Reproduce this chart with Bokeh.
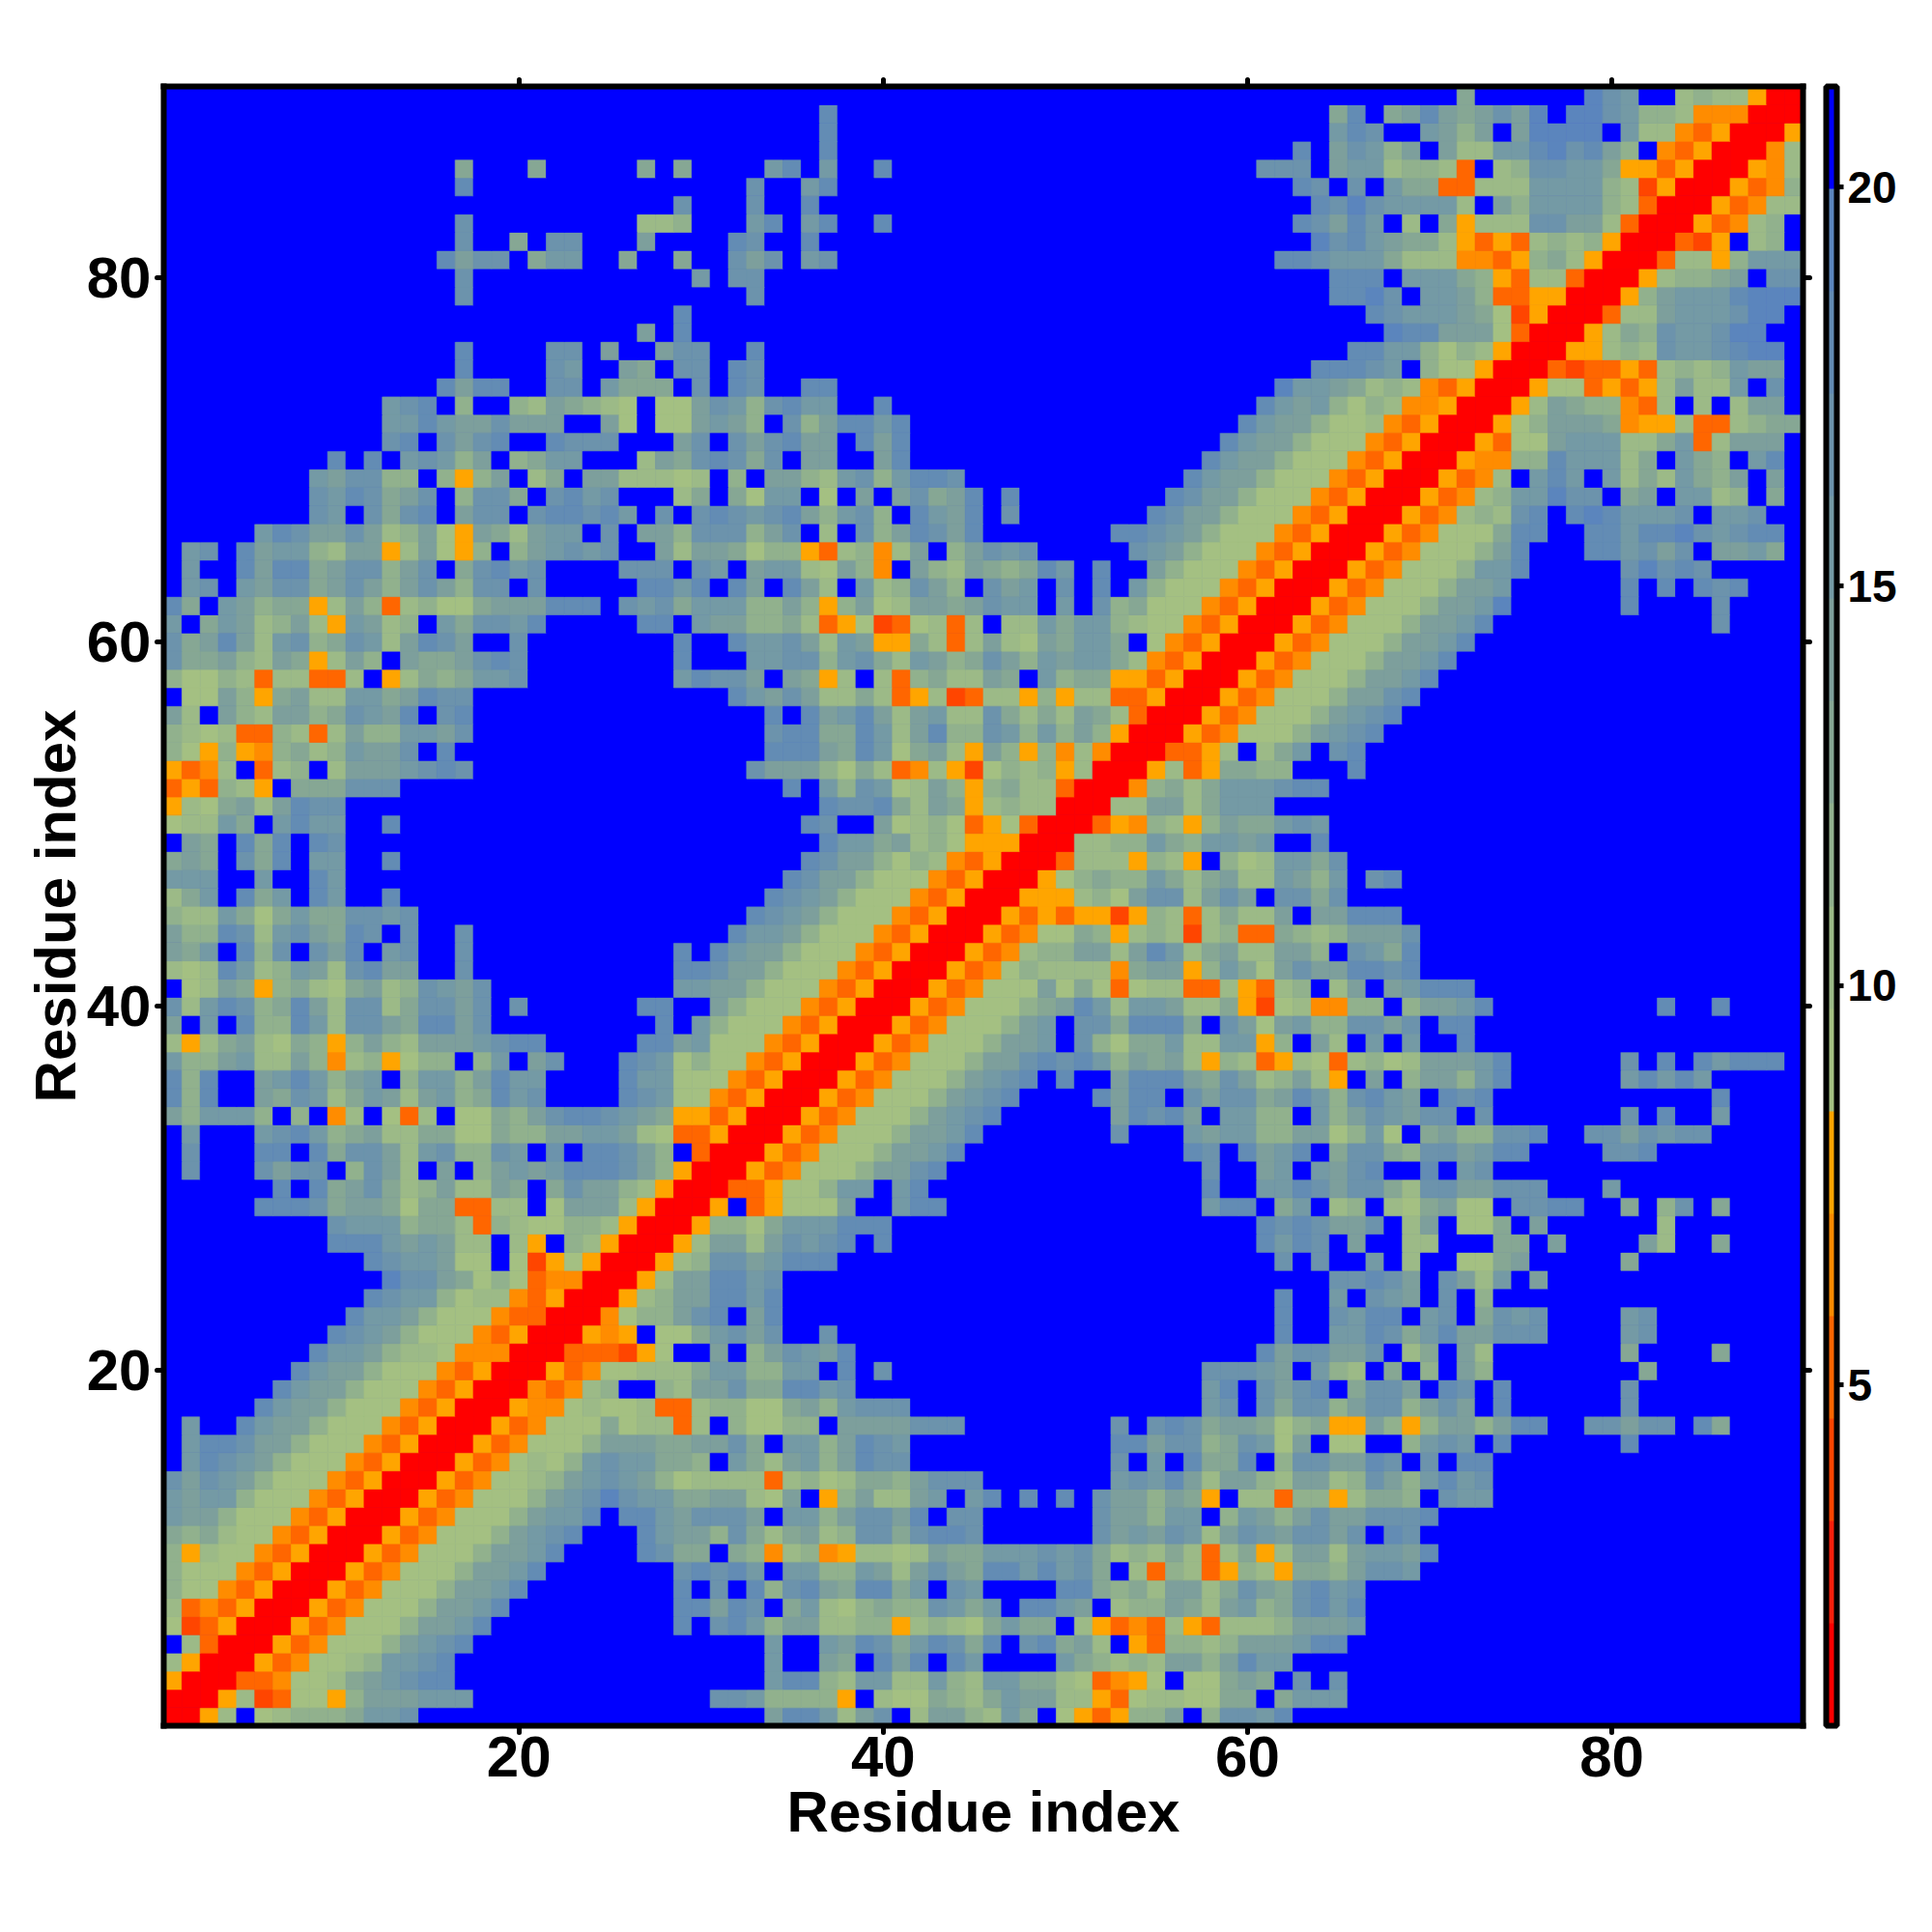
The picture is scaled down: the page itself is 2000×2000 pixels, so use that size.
import numpy as np
from bokeh.embed import file_html
from bokeh.resources import INLINE
from bokeh.plotting import figure
from bokeh.models import (ColumnDataSource, LinearAxis, FixedTicker, LinearColorMapper,
                          ColorBar)
from bokeh.transform import transform

# Binned distance per residue pair (symmetric map; each row starts on the diagonal).
# r a b c d : red -> orange bins, 1..9 : green -> steel-blue bins, 0 : top (blue) bin.
# Groups: residues up to 26 | 27-52 | 53-78 | 79-90; a short group is filled with the top bin.
ROWS = [
"rrd20123334667 000000058862570255326401db d335037768 0",
"rrd2ab11d3555666 00007763333d0211432465522d b122114404666 0",
"rrbbc112456788 0000000688326622632664421b cd10114540707 0",
"rrdbc11236678 00000006005408580860000643 2325535866 0",
"rrdbc11135678 00000006006587468748078452 0db3323555688 0",
"rrdbc11135568 00807863552233d2321464402d bcb2db22235556 0",
"rrdbc11135568 00885870462134337646088650 23354256347868 0",
"rrdbc11135568 00807083785488460760000884 34255247547867 0",
"rrdbc11135568 00787860663365257548868674 02b32bd32d4435776 0",
"rrdbc11135568 8744043c23cd22125446667674 23242b24d255256658 0",
"rrdbc11135678 86553742452377478870000007 56576257657757087 0",
"rrdbc1113566808 86577750663577580770000007 553660365357557778 0",
"rrdbc111356797 6644552150d352256068080807 55354d022b33d24430766 0",
"rrdbc11235676 5312222b23124435777 676852553255237536867 0",
"rrdbc1213676 644306425635877 706084480377558707088 0",
"rrdbc111355 544557406635876 8857734761501100367608 008",
"rrdbc11141 22b203113305555777 707874554134dd53d3553588 77577084",
"rrdcc1211 2bb233114536777 0000067074773577357508 007",
"rrcbc230 032557448867 0000068075780477508708 007",
"rrdbc11 22246633660807 000007776506320403053 0004",
"rrbbba d10050357658 000000008577557024052 00400004",
"rrdcd 01146757007 000000000800668746855777 0067",
"rrc1 33578058 000000000800768806704767 0067",
"rrd 23558868 000000000800607650703 0",
"rr d2558867 000000000000778750752605 0",
"r rd237756888 00000000070700602001145 004",
"rrd25525767808 0000000086870500220004405 00052004",
"rrd3314666888 000000008787557025011405 00002",
"rrd0bd111500688 00000688046023021451107788 00403704",
"rrbbd11366068 000008006687577427755777 06",
"rrdbc11135578 000007005606578008067 0",
"rrdbc11135568 00008708568047743775688 0778",
"rrdbc11135568 700065663355136104533778 7757677",
"rrdbc11135678 587850663306357657707 00708006",
"rrdbc1113567800008 588075774586378650878 00000008",
"rrdbc111356780800 588854752352d050355368 0068686",
"rrdbc11135578786 35452d32bd21b231255568 00708086888",
"rrdbc1113556073 14462266d30520606008 0",
"rrdbc111356077 48884075156337757088 0",
"rrdbc11134586 2665224da12cc33035568 00008008",
"rrdbc1115141 b122bb2db23025056888 0",
"rrdbc132222 c455d364157558878 0",
"rrdbc23355 25862452255307648 0",
"rrdbc1143 d232a23bb43235557 0",
"rrdbdbdd ad32b24225055888 0",
"rrddd23 1577257507747 0",
"rrd134 3364245226536078 0",
"rrb22 2d32d03126647 0",
"rr22 336436656008 0",
"rrb dc32d3544676 0",
"rr 225524666 0",
"r rc3424666788 0",
"rrd2bd44330008 0",
"rrbbd20246078 0",
"rrdbc11135678 0",
"rrdbc11135678 0",
"rrdbc11135578 0",
"rrdbc11135568 0",
"rrdbc11135568 0",
"rrdbc11135568 0",
"rrdbc11135568 00000007",
"rrdbc11135569 00800007",
"rrdbc1113556 008080878",
"rrdbc1113668 0079787",
"rrdbc111358 88675705564",
"rrdbc111488 88688976788",
"rrdbc2327808 9866670667",
"rrdbc236697 70450662304",
"rrdbc20686 06242643505",
"rrdcc3386 66240643068",
"rrdb1156 662246b2555",
"rrd1355 54cdd2bb2344",
"rrd254 33cb2020255",
"rrd11 bdbd2522607",
"rrba bbdb2323655",
"rrd d2327667899",
"rr d243766799",
"r rb2256667990",
"rrd356668999",
"rrd23345077",
"rrb22d3666",
"rrbad0230",
"rrdbc230",
"rrdbc22",
"rrdbc3",
"rrdc2",
"rrc2",
"rrd",
"rr",
"r",
]
BIN_OF = {"r": 0, "a": 2, "b": 3, "c": 4, "d": 5, "1": 6, "2": 7, "3": 8, "4": 9, "5": 10,
          "6": 11, "7": 12, "8": 13, "9": 14, "0": 15}
PALETTE = ["#ff0000", "#f8200c", "#ff4500", "#ff6600", "#ff8c00", "#ffa500",
           "#a4c082", "#9cba87", "#91b18d", "#86a794", "#7d9f9c", "#749aa5",
           "#6c93ac", "#638cb4", "#5b85bd", "#0000ff"]
CBAR_LOW, CBAR_HIGH = 0.73, 21.26
TICKS = [20, 40, 60, 80]
CBAR_TICKS = [5, 10, 15, 20]
TITLE = "Residue index"
FONT = "Liberation Sans"

N = 90
starts = [1, 27, 53, 79, 91]
step = (CBAR_HIGH - CBAR_LOW) / len(PALETTE)
mat = np.full((N, N), 15, dtype=int)
for j, row in enumerate(ROWS, start=1):
    groups = row.split()
    g0 = max(k for k in range(4) if starts[k] <= j)
    for k, grp in zip(range(g0, 4), groups):
        first = max(starts[k], j)
        size = starts[k + 1] - first
        assert len(grp) <= size, (j, k, len(grp), size)
        for off, ch in enumerate(grp):
            i = first + off
            mat[j - 1, i - 1] = BIN_OF[ch]
            mat[i - 1, j - 1] = BIN_OF[ch]
assert len(ROWS) == N

xx, yy = np.meshgrid(np.arange(1, N + 1), np.arange(1, N + 1))
vals = CBAR_LOW + (mat + 0.5) * step
src = ColumnDataSource(dict(x=xx.ravel(), y=yy.ravel(), v=vals.ravel()))

mapper = LinearColorMapper(palette=PALETTE, low=CBAR_LOW, high=CBAR_HIGH)

FW = 1697
W, H = 1984, 1984
LEFT, TOP = 169, 89
p = figure(width=W, height=H, frame_width=FW, frame_height=FW,
           x_range=(0.5, 90.5), y_range=(0.5, 90.5),
           min_border_left=LEFT, min_border_right=W - LEFT - FW,
           min_border_top=TOP, min_border_bottom=H - TOP - FW,
           output_backend="svg", toolbar_location=None, x_axis_type=None, y_axis_type=None)
p.outline_line_color = None
p.grid.visible = False
p.background_fill_color = "#0000ff"
p.rect("x", "y", width=1, height=1, source=src, dilate=True,
       fill_color=transform("v", mapper), line_color=transform("v", mapper), line_width=0.7)


def style(ax, labelled):
    ax.ticker = FixedTicker(ticks=TICKS)
    ax.minor_tick_line_color = None
    ax.major_tick_in = 0
    ax.major_tick_out = 7
    ax.major_tick_line_width = 5
    ax.major_tick_line_cap = "round"
    ax.major_tick_line_color = "black"
    ax.axis_line_width = 6
    ax.axis_line_color = "black"
    ax.axis_line_cap = "square"
    if labelled:
        ax.major_label_text_font = FONT
        ax.major_label_text_font_style = "bold"
        ax.major_label_text_font_size = "60px"
        ax.major_label_text_color = "black"
        ax.axis_label = TITLE
        ax.axis_label_text_font = FONT
        ax.axis_label_text_font_style = "bold"
        ax.axis_label_text_font_size = "60px"
        ax.axis_label_text_color = "black"
    else:
        ax.major_label_text_font_size = "0px"
        ax.major_label_text_color = None


bottom = LinearAxis()
style(bottom, True)
bottom.major_label_standoff = 4
bottom.axis_label_standoff = 0
p.add_layout(bottom, "below")
left = LinearAxis()
style(left, True)
left.major_label_standoff = 6
left.axis_label_standoff = -4
p.add_layout(left, "left")
top = LinearAxis()
style(top, False)
p.add_layout(top, "above")
right = LinearAxis()
style(right, False)
p.add_layout(right, "right")

cb = ColorBar(color_mapper=mapper, ticker=FixedTicker(ticks=CBAR_TICKS),
              location=(1721, 0), width=11, height=FW, padding=0, margin=0,
              bar_line_color="black", bar_line_width=6,
              major_tick_in=0, major_tick_out=7, major_tick_line_color="black",
              major_tick_line_width=5, minor_tick_line_color=None,
              label_standoff=4,
              major_label_text_font=FONT, major_label_text_font_style="bold",
              major_label_text_font_size="46px", major_label_text_color="black",
              background_fill_color=None, border_line_color=None)
p.add_layout(cb, "center")

open("out.html", "w").write(file_html(p, INLINE))
